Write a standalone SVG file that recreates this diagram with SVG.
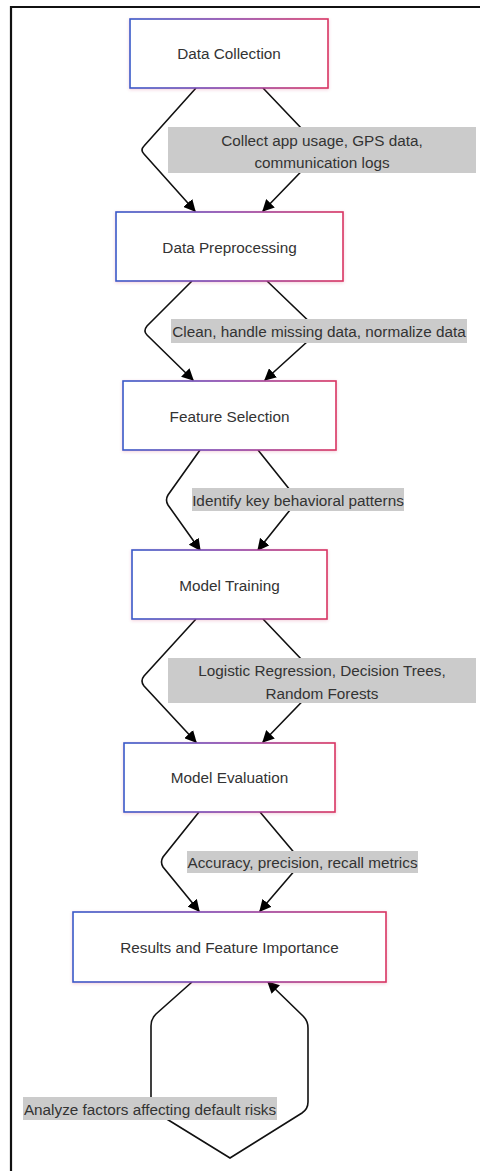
<svg xmlns="http://www.w3.org/2000/svg" width="480" height="1171" viewBox="0 0 480 1171">
<style>
.node rect{fill:#fff;stroke:url(#g);stroke-width:1.6;filter:url(#sh)}
.node text{font-family:"Liberation Sans",Arial,sans-serif;font-size:15.3px;fill:#333;text-anchor:middle;dominant-baseline:central}
.lbl rect{fill:#cbcbcb}
.lbl text{font-family:"Liberation Sans",Arial,sans-serif;font-size:15.3px;fill:#333;text-anchor:middle;dominant-baseline:central}
.edges path{fill:none;stroke:#111;stroke-width:1.6}
.edges path.a{marker-end:url(#arr)}
</style>
<defs>
<linearGradient id="g" x1="0" y1="0" x2="1" y2="0">
<stop offset="0" stop-color="#3659c8"/>
<stop offset="0.5" stop-color="#8a3fa8"/>
<stop offset="1" stop-color="#d83462"/>
</linearGradient>
<filter id="sh" x="-10%" y="-20%" width="120%" height="140%">
<feDropShadow dx="0" dy="1" stdDeviation="1.5" flood-color="#d04070" flood-opacity="0.25"/>
</filter>
<marker id="arr" viewBox="0 0 10 10" refX="9" refY="5" markerWidth="12" markerHeight="12" orient="auto" markerUnits="userSpaceOnUse">
<path d="M0,0 L10,5 L0,10 z" fill="#000"/>
</marker>
</defs>
<rect width="480" height="1171" fill="#fff"/>
<path d="M11,1171 L11,7 L480,7" fill="none" stroke="#111" stroke-width="2.2"/>

<g id="edges" class="edges">
<path class="a" d="M196,88 L144,146 Q140,150 144,154 L195,211"/>
<path class="a" d="M263,88 L322,150 L263,211"/>
<path class="a" d="M192,281 L147,326 Q143,331 147,335 L193,380"/>
<path class="a" d="M267,281 L319,331 L265,380"/>
<path class="a" d="M200,450 L168,495 Q165,500 168,505 L200,550"/>
<path class="a" d="M258,450 L298,500 L258,550"/>
<path class="a" d="M196,619 L144,676 Q140,681 144,686 L196,742"/>
<path class="a" d="M263,619 L322,681 L263,742"/>
<path class="a" d="M199,812 L163,857 Q160,862 163,867 L199,911"/>
<path class="a" d="M260,812 L302,862 L260,911"/>
<path class="a" d="M192,982 L156,1014 Q151,1019 151,1026 L151,1102 Q151,1109 157,1113 L230,1158 L302,1113 Q308,1109 308,1102 L308,1028 Q308,1021 303,1016 L268,982"/>
</g>

<g id="label1" class="lbl"><rect x="168" y="127" width="308" height="46"/><text x="322" y="140">Collect app usage, GPS data,</text><text x="322" y="162">communication logs</text></g>
<g id="label2" class="lbl"><rect x="171" y="319" width="296" height="24"/><text x="319" y="331.5">Clean, handle missing data, normalize data</text></g>
<g id="label3" class="lbl"><rect x="192" y="488" width="212" height="23"/><text x="298" y="500">Identify key behavioral patterns</text></g>
<g id="label4" class="lbl"><rect x="168" y="658" width="308" height="45"/><text x="322" y="670">Logistic Regression, Decision Trees,</text><text x="322" y="693">Random Forests</text></g>
<g id="label5" class="lbl"><rect x="187" y="851" width="231" height="22"/><text x="302.5" y="862">Accuracy, precision, recall metrics</text></g>
<g id="label6" class="lbl"><rect x="23" y="1097" width="254" height="23"/><text x="150" y="1109">Analyze factors affecting default risks</text></g>

<g id="n1" class="node"><rect x="130" y="19" width="198" height="69"/><text x="229" y="53.5">Data Collection</text></g>
<g id="n2" class="node"><rect x="116" y="212" width="227" height="69"/><text x="229.5" y="247">Data Preprocessing</text></g>
<g id="n3" class="node"><rect x="123" y="381" width="213" height="69"/><text x="229.5" y="416">Feature Selection</text></g>
<g id="n4" class="node"><rect x="132" y="550" width="195" height="69"/><text x="229.5" y="585">Model Training</text></g>
<g id="n5" class="node"><rect x="124" y="743" width="211" height="69"/><text x="229.5" y="777">Model Evaluation</text></g>
<g id="n6" class="node"><rect x="73" y="912" width="313" height="70"/><text x="229.5" y="947">Results and Feature Importance</text></g>
</svg>
